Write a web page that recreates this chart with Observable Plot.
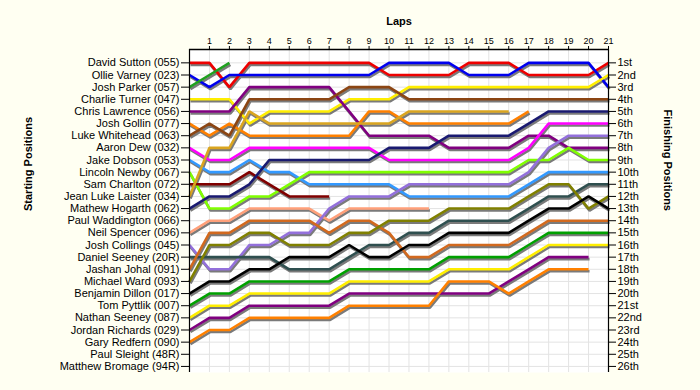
<!DOCTYPE html>
<html><head><meta charset="utf-8">
<script src="https://cdn.jsdelivr.net/npm/d3@7"></script>
<script src="https://cdn.jsdelivr.net/npm/@observablehq/plot@0.6"></script>
<style>
html,body{margin:0;padding:0;background:#fffff2;}
#chart svg{display:block;}
</style></head><body><div id="chart"></div>
<script>
// ---- Data ----
const drivers = [
  "David Sutton (055)", "Ollie Varney (023)", "Josh Parker (057)", "Charlie Turner (047)",
  "Chris Lawrence (056)", "Josh Gollin (077)", "Luke Whitehead (063)", "Aaron Dew (032)",
  "Jake Dobson (053)", "Lincoln Newby (067)", "Sam Charlton (072)", "Jean Luke Laister (034)",
  "Mathew Hogarth (062)", "Paul Waddington (066)", "Neil Spencer (096)", "Josh Collings (045)",
  "Daniel Seeney (20R)", "Jashan Johal (091)", "Michael Ward (093)", "Benjamin Dillon (017)",
  "Tom Pyttlik (007)", "Nathan Seeney (087)", "Jordan Richards (029)", "Gary Redfern (090)",
  "Paul Sleight (48R)", "Matthew Bromage (94R)"
];
const finishLabels = ["1st","2nd","3rd","4th","5th","6th","7th","8th","9th","10th","11th","12th","13th",
  "14th","15th","16th","17th","18th","19th","20th","21st","22nd","23rd","24th","25th","26th"];
const lapTicks = [1,2,3,4,5,6,7,8,9,10,11,12,13,14,15,16,17,18,19,20,21];
const _ = null;
// position per lap, lap 0 (grid) .. lap 21
const sutton     = [1,1,3,1,1,1,1,1,1,1,2,2,2,2,1,1,1,2,2,2,2,1];
const varney     = [2,3,2,2,2,2,2,2,2,2,1,1,1,1,2,2,2,1,1,1,1,3];
const parker     = [3,2,1,_,_,_,_,_,_,_,_,_,_,_,_,_,_,_,_,_,_,_];
const turner     = [4,4,4,6,5,5,5,5,4,4,4,3,3,3,3,3,3,3,3,3,3,2];
const lawrence   = [5,5,5,3,3,3,3,3,5,7,7,7,7,8,8,8,8,7,7,8,8,8];
const gollin     = [6,7,6,7,7,7,7,7,7,5,5,6,6,6,6,6,6,5,_,_,_,_];
const whitehead  = [7,6,7,4,4,4,4,4,3,3,3,4,4,4,4,4,4,4,4,4,4,4];
const dew        = [8,9,9,8,8,8,8,8,8,8,9,9,9,9,9,9,9,8,6,6,6,6];
const dobson     = [9,10,10,9,10,10,11,11,11,11,11,12,12,12,12,12,12,11,10,10,10,10];
const newby      = [10,13,13,12,12,11,10,10,10,10,10,10,10,10,10,10,10,9,9,8,9,9];
const charlton   = [11,11,11,10,11,12,12,12,_,_,_,_,_,_,_,_,_,_,_,_,_,_];
const laister    = [12,8,8,5,6,6,6,6,6,6,6,5,5,5,5,5,5,_,_,_,_,_];
const hogarth    = [13,12,12,11,9,9,9,9,9,9,8,8,8,7,7,7,7,6,5,5,5,5];
const waddington = [_,_,_,_,_,_,_,_,_,_,_,_,_,_,_,_,_,_,_,_,_,_];
const spencer    = [15,14,14,13,13,13,13,14,13,13,13,13,13,_,_,_,_,_,_,_,_,_];
const collings   = [16,18,18,16,16,15,15,13,12,12,12,11,11,11,11,11,11,10,8,7,7,7];
const dSeeney    = [17,17,17,17,17,18,18,18,17,16,16,15,15,14,14,14,14,13,12,12,11,11];
const johal      = [18,15,15,14,14,14,14,15,14,14,15,17,17,16,16,16,16,15,14,14,14,14];
const ward       = [19,16,16,15,15,16,16,16,15,15,14,14,14,13,13,13,13,12,11,11,13,12];
const dillon     = [20,19,19,18,18,17,17,17,16,17,17,16,16,15,15,15,15,14,13,13,12,13];
const pyttlik    = [21,20,20,19,19,19,19,19,18,18,18,18,18,17,17,17,17,16,15,15,15,15];
const nSeeney    = [22,21,21,20,20,20,20,20,19,19,19,19,19,18,18,18,18,17,16,16,16,16];
const richards   = [23,22,22,21,21,21,21,21,20,20,20,20,20,20,20,20,19,18,17,17,17,_];
const redfern    = [24,23,23,22,22,22,22,22,21,21,21,21,21,19,19,19,20,19,18,18,18,_];
const sleight    = [_,_,_,_,_,_,_,_,_,_,_,_,_,_,_,_,_,_,_,_,_,_];
const bromage    = [_,_,_,_,_,_,_,_,_,_,_,_,_,_,_,_,_,_,_,_,_,_];

const positions = [sutton, varney, parker, turner, lawrence, gollin, whitehead, dew, dobson, newby,
  charlton, laister, hogarth, waddington, spencer, collings, dSeeney, johal, ward, dillon,
  pyttlik, nSeeney, richards, redfern, sleight, bromage];

const driverColors = ["#ee0000", "#0000ee", "#1fa01f", "#ffee00", "#800080", "#ff8000", "#8b4513",
  "#ff00ff", "#3399ff", "#80ff00", "#800000", "#daa520", "#191970", "#999999", "#ffa07a", "#9370db",
  "#2f4f4f", "#d2691e", "#808000", "#000000", "#00a000", "#ffee00", "#800080", "#ff8000", "#999999", "#999999"];

// ---- Build table ----
const table = [];
drivers.forEach((d, i) => {
  positions[i].forEach((p, lap) => { if (p != null) table.push({driver: d, lap, pos: p}); });
});
const rows = drivers.map((d, i) => i + 1);
const font = "Liberation Sans, Arial, Helvetica, sans-serif";

const chart = Plot.plot({
  width: 700, height: 390,
  marginLeft: 189, marginRight: 92, marginTop: 49, marginBottom: 18,
  style: {background: "transparent", fontFamily: font, fontSize: "11px", color: "#000", overflow: "visible"},
  x: {domain: [0, 21]},
  y: {domain: [26.5, -0.1]},
  color: {domain: drivers, range: driverColors},
  marks: [
    Plot.frame({fill: "white", stroke: null}),
    Plot.ruleX(lapTicks, {stroke: "#e3e3e3", strokeWidth: 1}),
    Plot.ruleY(rows, {stroke: "#e3e3e3", strokeWidth: 1}),
    Plot.line(table, {x: "lap", y: "pos", z: "driver", stroke: "#7a7a7a", strokeWidth: 2.6, dx: 1, dy: 2, strokeLinejoin: "miter", strokeLinecap: "butt"}),
    Plot.line(table, {x: "lap", y: "pos", z: "driver", stroke: "driver", strokeWidth: 2.6, strokeLinejoin: "miter", strokeLinecap: "butt"}),
    Plot.ruleX([0, 21], {stroke: "#000", strokeWidth: 1.2}),
    Plot.ruleY([-0.1], {stroke: "#000", strokeWidth: 1.5}),
    Plot.axisX(lapTicks, {anchor: "top", tickSize: 4, tickPadding: 2, fontSize: 9, label: null, stroke: "#000"}),
    Plot.axisY(rows, {anchor: "left", tickSize: 8, tickPadding: 2, fontSize: 11, label: null, tickFormat: (i) => drivers[i - 1], stroke: "#000"}),
    Plot.axisY(rows, {anchor: "right", tickSize: 7, tickPadding: 2, fontSize: 11, label: null, tickFormat: (i) => finishLabels[i - 1], stroke: "#000"}),
    Plot.text(["Laps"], {frameAnchor: "top", dy: -32, fontWeight: "bold", fontSize: 11}),
    Plot.text(["Starting Positions"], {frameAnchor: "left", dx: -161, rotate: -90, fontWeight: "bold", fontSize: 11}),
    Plot.text(["Finishing Positions"], {frameAnchor: "right", dx: 59, rotate: 90, fontWeight: "bold", fontSize: 11})
  ]
});
document.getElementById("chart").appendChild(chart);
</script>
</body></html>
